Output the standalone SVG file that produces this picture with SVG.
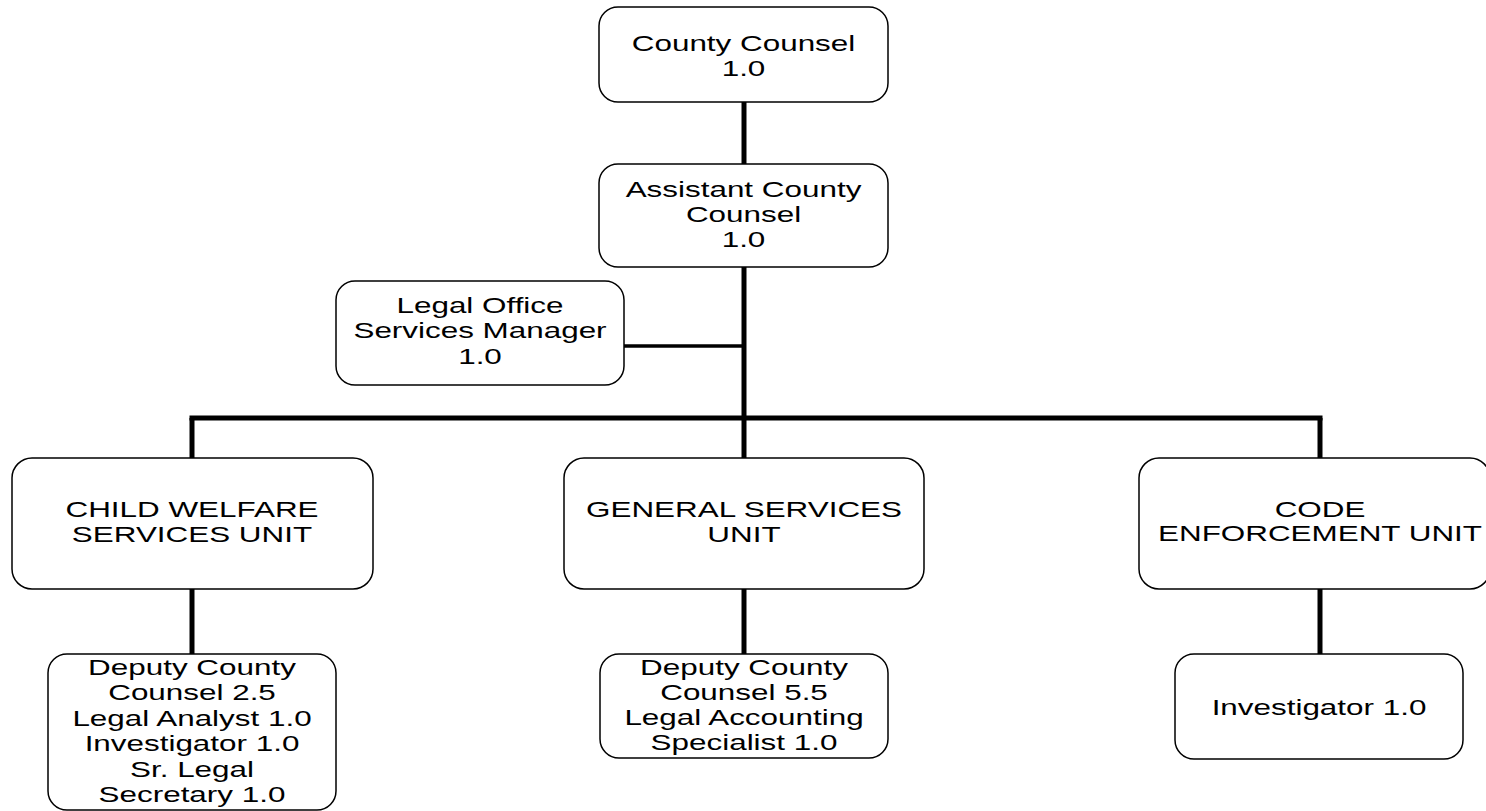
<svg xmlns="http://www.w3.org/2000/svg" width="1486" height="811" viewBox="0 0 1486 811">
<style>
.box{fill:#fff;stroke:#000;stroke-width:1.5}
.t{font-family:"Liberation Sans",Arial,sans-serif;font-size:22.6px;fill:#000;text-anchor:middle}
.c{stroke:#000;stroke-width:5;fill:none}
.c2{stroke:#000;stroke-width:3.5;fill:none}
</style>
<rect width="1486" height="811" fill="#fff"/>
<g id="connectors">
<line class="c" x1="744" y1="102" x2="744" y2="164"/>
<line class="c" x1="744" y1="267" x2="744" y2="459"/>
<line class="c2" x1="624" y1="346" x2="744" y2="346"/>
<line class="c" x1="189.5" y1="418" x2="1322.5" y2="418"/>
<line class="c" x1="192" y1="418" x2="192" y2="459"/>
<line class="c" x1="1320" y1="418" x2="1320" y2="459"/>
<line class="c" x1="192" y1="589" x2="192" y2="655"/>
<line class="c" x1="744" y1="589" x2="744" y2="655"/>
<line class="c" x1="1320" y1="589" x2="1320" y2="655"/>
</g>
<g id="county-counsel">
<rect class="box" x="599" y="7" width="289" height="95" rx="19"/>
<g transform="translate(743.5,0) scale(1.39,1)"><text class="t" x="0" y="51.5">County Counsel</text><text class="t" x="0" y="76">1.0</text></g>
</g>
<g id="assistant-county-counsel">
<rect class="box" x="599" y="164" width="289" height="103" rx="19"/>
<g transform="translate(743.5,0) scale(1.39,1)"><text class="t" x="0" y="197">Assistant County</text><text class="t" x="0" y="222">Counsel</text><text class="t" x="0" y="247">1.0</text></g>
</g>
<g id="legal-office-services-manager">
<rect class="box" x="336" y="281" width="288" height="104" rx="19"/>
<g transform="translate(480,0) scale(1.39,1)"><text class="t" x="0" y="313">Legal Office</text><text class="t" x="0" y="338.5">Services Manager</text><text class="t" x="0" y="364">1.0</text></g>
</g>
<g id="child-welfare">
<rect class="box" x="12" y="458" width="361" height="131" rx="20"/>
<g transform="translate(192,0) scale(1.39,1)"><text class="t" x="0" y="517">CHILD WELFARE</text><text class="t" x="0" y="542">SERVICES UNIT</text></g>
</g>
<g id="general-services">
<rect class="box" x="564" y="458" width="360" height="131" rx="20"/>
<g transform="translate(744,0) scale(1.39,1)"><text class="t" x="0" y="517">GENERAL SERVICES</text><text class="t" x="0" y="542">UNIT</text></g>
</g>
<g id="code-enforcement">
<rect class="box" x="1139" y="458" width="351" height="131" rx="20"/>
<g transform="translate(1320,0) scale(1.39,1)"><text class="t" x="0" y="517">CODE</text><text class="t" x="0" y="541">ENFORCEMENT UNIT</text></g>
</g>
<g id="child-welfare-staff">
<rect class="box" x="48" y="654" width="288" height="156" rx="19"/>
<g transform="translate(192,0) scale(1.39,1)"><text class="t" x="0" y="675">Deputy County</text><text class="t" x="0" y="700.5">Counsel 2.5</text><text class="t" x="0" y="726">Legal Analyst 1.0</text><text class="t" x="0" y="751.5">Investigator 1.0</text><text class="t" x="0" y="777">Sr. Legal</text><text class="t" x="0" y="802.5">Secretary 1.0</text></g>
</g>
<g id="general-services-staff">
<rect class="box" x="600" y="654" width="288" height="104" rx="19"/>
<g transform="translate(744,0) scale(1.39,1)"><text class="t" x="0" y="675">Deputy County</text><text class="t" x="0" y="700">Counsel 5.5</text><text class="t" x="0" y="725">Legal Accounting</text><text class="t" x="0" y="750">Specialist 1.0</text></g>
</g>
<g id="code-enforcement-staff">
<rect class="box" x="1175" y="654" width="288" height="105" rx="19"/>
<g transform="translate(1319,0) scale(1.39,1)"><text class="t" x="0" y="715">Investigator 1.0</text></g>
</g>
</svg>
